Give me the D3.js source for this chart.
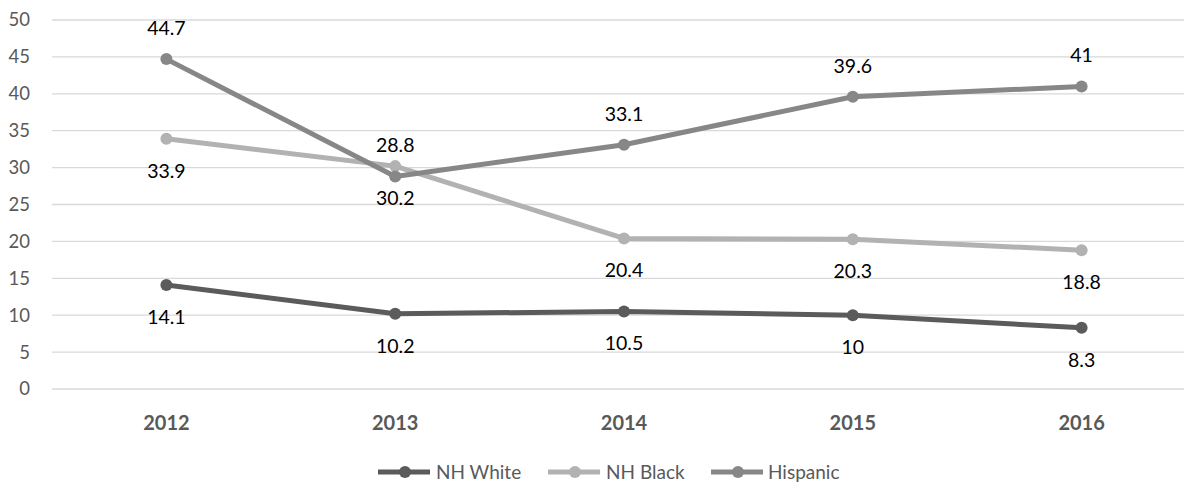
<!DOCTYPE html>
<html>
<head>
<meta charset="utf-8">
<script src="https://cdn.jsdelivr.net/npm/d3@7"></script>
<style>
  html, body { margin: 0; padding: 0; background: #fff; }
  svg { display: block; font-family: Lato, "Open Sans", sans-serif; }
</style>
</head>
<body>
<svg id="chart" width="1184" height="485"></svg>
<script>
// Years along the x axis
const years = ["2012", "2013", "2014", "2015", "2016"];
// Series values, one per year
const nhWhite = [14.1, 10.2, 10.5, 10, 8.3];
const nhBlack = [33.9, 30.2, 20.4, 20.3, 18.8];
const hispanic = [44.7, 28.8, 33.1, 39.6, 41];
// Y axis ticks
const yTicks = [0, 5, 10, 15, 20, 25, 30, 35, 40, 45, 50];

const series = [
  { name: "NH White", values: nhWhite, color: "#5b5b5b", labelPos: "below" },
  { name: "NH Black", values: nhBlack, color: "#b2b2b2", labelPos: "below" },
  { name: "Hispanic", values: hispanic, color: "#878787", labelPos: "above" }
];

const svg = d3.select("#chart");
const W = 1184, H = 485;
const plot = { left: 52, right: 1196, top: 20, bottom: 389 };

const x = d3.scaleBand().domain(years).range([plot.left, plot.right]);
const y = d3.scaleLinear().domain([0, 50]).range([plot.bottom, plot.top]);
const cx = d => x(d) + x.bandwidth() / 2;

// Horizontal gridlines
svg.append("g").selectAll("line").data(yTicks).join("line")
  .attr("x1", plot.left).attr("x2", W)
  .attr("y1", d => y(d)).attr("y2", d => y(d))
  .attr("stroke", "#d9d9d9").attr("stroke-width", 1.3);

// Y tick labels
svg.append("g").selectAll("text").data(yTicks).join("text")
  .attr("x", 30).attr("y", d => y(d))
  .attr("dy", "0.35em")
  .attr("text-anchor", "end")
  .attr("fill", "#595959")
  .attr("font-size", 18.5)
  .text(d => d);

// X category labels
svg.append("g").selectAll("text").data(years).join("text")
  .attr("x", d => cx(d)).attr("y", 423)
  .attr("dy", "0.35em")
  .attr("text-anchor", "middle")
  .attr("fill", "#595959")
  .attr("font-size", 20)
  .attr("font-weight", "bold")
  .text(d => d);

const line = d3.line().x((v, i) => cx(years[i])).y(v => y(v));

// Draw in stacking order: white, black, hispanic on top
series.forEach(s => {
  const g = svg.append("g");
  g.append("path")
    .attr("d", line(s.values))
    .attr("fill", "none")
    .attr("stroke", s.color)
    .attr("stroke-width", 5)
    .attr("stroke-linejoin", "round");
  g.selectAll("circle").data(s.values).join("circle")
    .attr("cx", (v, i) => cx(years[i]))
    .attr("cy", v => y(v))
    .attr("r", 6)
    .attr("fill", s.color);
});

// Data labels
series.forEach(s => {
  svg.append("g").selectAll("text").data(s.values).join("text")
    .attr("x", (v, i) => cx(years[i]))
    .attr("y", v => y(v) + (s.labelPos === "above" ? -31 : 32))
    .attr("dy", "0.35em")
    .attr("text-anchor", "middle")
    .attr("fill", "#000")
    .attr("font-size", 19.5)
    .text(v => v);
});

// Legend
const legend = svg.append("g");
const legendItems = [
  { s: series[0], x0: 378, tx: 436 },
  { s: series[1], x0: 548, tx: 606 },
  { s: series[2], x0: 711, tx: 768 }
];
legendItems.forEach(({ s, x0, tx }) => {
  legend.append("line")
    .attr("x1", x0).attr("x2", x0 + 52)
    .attr("y1", 472).attr("y2", 472)
    .attr("stroke", s.color).attr("stroke-width", 5);
  legend.append("circle")
    .attr("cx", x0 + 27).attr("cy", 472).attr("r", 6)
    .attr("fill", s.color);
  legend.append("text")
    .attr("x", tx).attr("y", 472).attr("dy", "0.35em")
    .attr("fill", "#595959").attr("font-size", 19)
    .text(s.name);
});
</script>
</body>
</html>
